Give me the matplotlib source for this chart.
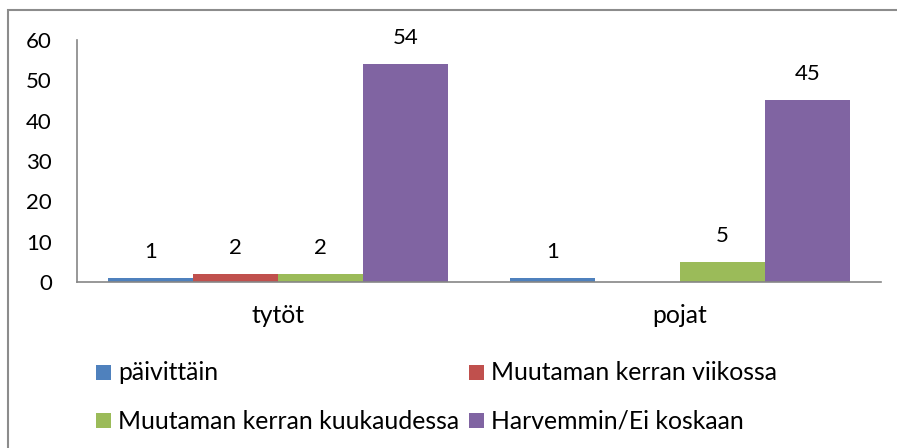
import matplotlib
matplotlib.use('Agg')
import matplotlib.pyplot as plt
from matplotlib.patches import Rectangle

categories = ['tytöt', 'pojat']
series = ['päivittäin', 'Muutaman kerran viikossa', 'Muutaman kerran kuukaudessa', 'Harvemmin/Ei koskaan']
values = [
    [1, 1],    # päivittäin
    [2, 0],    # Muutaman kerran viikossa
    [2, 5],    # Muutaman kerran kuukaudessa
    [54, 45],  # Harvemmin/Ei koskaan
]
labels = [
    ['1', '1'],
    ['2', ''],
    ['2', '5'],
    ['54', '45'],
]
colors = ['#4F81BD', '#C0504D', '#9BBB59', '#8064A2']
yticks = [0, 10, 20, 30, 40, 50, 60]

W, H = 897, 448
plt.rcParams['font.family'] = ['Lato', 'DejaVu Sans']

def px(x, y):
    # pixel coords from top-left -> figure fraction
    return x / W, 1 - y / H

fig = plt.figure(figsize=(W / 100, H / 100), dpi=100)

# pick a font size so the longest legend entry is as wide as in the original (~340 px)
probe = fig.text(0, 0, series[2], fontsize=10)
w10 = probe.get_window_extent(renderer=fig.canvas.get_renderer()).width
probe.remove()
FS = 10 * 340 / w10
NUM_FS = 16  # Lato digits are wider/taller than Calibri's

l, b = px(77, 282)
r, t = px(881, 40)
ax = fig.add_axes([l, b, r - l, t - b])

bw = 0.211
xs = range(len(categories))
for i, (name, vals) in enumerate(zip(series, values)):
    pos = [x + (i - 1.5) * bw for x in xs]
    bars = ax.bar(pos, vals, width=bw, color=colors[i], align='center', zorder=2)
    for bar, lab in zip(bars, labels[i]):
        if lab:
            ax.annotate(lab, (bar.get_x() + bar.get_width() / 2, bar.get_height()),
                        xytext=(0, 14.4), textcoords='offset points',
                        ha='center', va='baseline', fontsize=NUM_FS)

ax.set_xlim(-0.5, 1.5)
ax.set_ylim(0, 60)
ax.set_yticks(yticks)
ax.set_xticks(list(xs))
ax.set_xticklabels(categories)
ax.tick_params(axis='both', length=0)
ax.tick_params(axis='y', pad=18, labelsize=NUM_FS)
ax.tick_params(axis='x', pad=16, labelsize=FS)
for s in ['top', 'right']:
    ax.spines[s].set_visible(False)
for s in ['left', 'bottom']:
    ax.spines[s].set_color('#868686')
    ax.spines[s].set_linewidth(1.2)

# legend, laid out like the Excel one (square left/top, text baseline)
leg_pos = [(96, 365), (469, 365), (96, 413), (469, 413)]
for (x, y), name, c in zip(leg_pos, series, colors):
    x0, y0 = px(x, y + 15)
    fig.patches.append(Rectangle((x0, y0), 15 / W, 15 / H, transform=fig.transFigure,
                                 facecolor=c, edgecolor='none'))
    tx, ty = px(x + 22, y + 15.5)
    fig.text(tx, ty, name, ha='left', va='baseline', fontsize=FS)

# chart area border (runs off the right and bottom edge)
bx, by = px(8, 10)
fig.patches.append(Rectangle((bx, -0.1), 1.2, by + 0.1, transform=fig.transFigure,
                             facecolor='none', edgecolor='#8c8c8c', linewidth=1.5))

fig.savefig('out.png', dpi=100)
